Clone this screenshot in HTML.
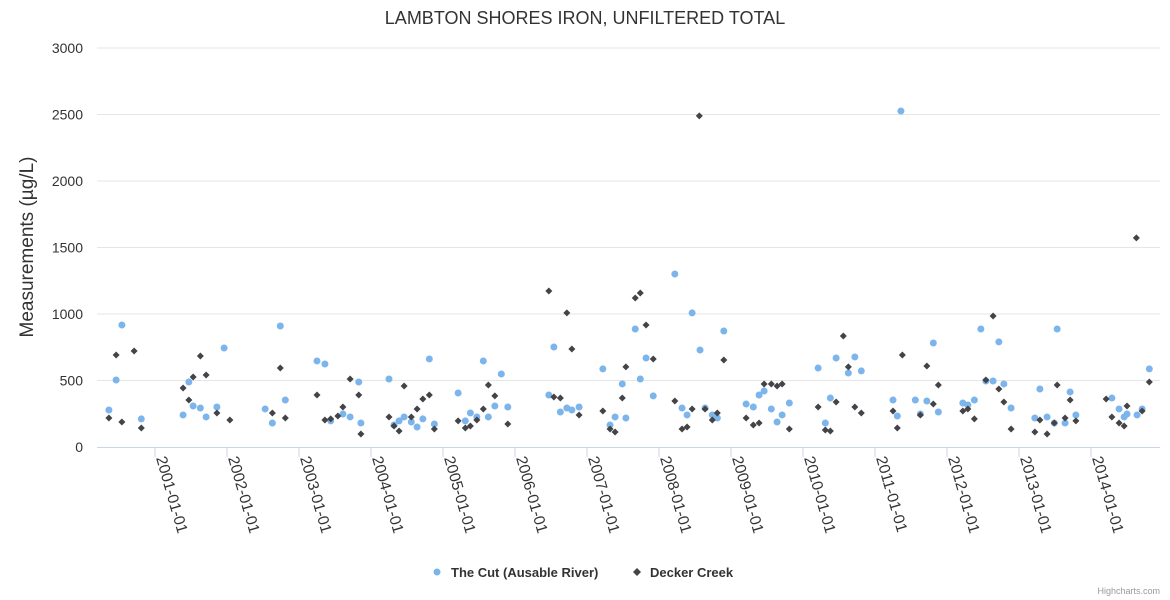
<!DOCTYPE html>
<html><head><meta charset="utf-8"><style>
body{margin:0;background:#fff;}
svg{display:block;font-family:"Liberation Sans","DejaVu Sans",sans-serif;}
</style></head><body>
<svg id="chart" width="1170" height="600" xmlns="http://www.w3.org/2000/svg">
<rect width="1170" height="600" fill="#fff"/>
<text x="585" y="24" text-anchor="middle" font-size="18" fill="#333">LAMBTON SHORES IRON, UNFILTERED TOTAL</text>
<text transform="translate(33,247) rotate(-90)" text-anchor="middle" font-size="19" fill="#333">Measurements (µg/L)</text>
<g id="grid"></g><g id="xaxis"></g><g id="marks"></g>
<g>
<g><circle cx="437" cy="572" r="3.5" fill="#7cb5ec"/><text x="451" y="577" font-size="13" font-weight="bold" fill="#333">The Cut (Ausable River)</text></g>
<g><path d="M637,568 L641,572 L637,576 L633,572 Z" fill="#434348"/><text x="650" y="577" font-size="13" font-weight="bold" fill="#333">Decker Creek</text></g>
</g>
<text x="1160" y="594" text-anchor="end" font-size="9" fill="#999">Highcharts.com</text>
</svg>
<script>
const yTicks=[0,500,1000,1500,2000,2500,3000];
const xTickYears=[2001,2002,2003,2004,2005,2006,2007,2008,2009,2010,2011,2012,2013,2014];
const cutDates=[2000.36,2000.46,2000.54,2000.81,2001.39,2001.47,2001.53,2001.63,2001.71,2001.86,2001.96,2002.53,2002.63,2002.74,2002.81,2003.25,2003.36,2003.44,2003.61,2003.71,2003.83,2003.86,2004.25,2004.32,2004.39,2004.46,2004.56,2004.64,2004.72,2004.81,2004.88,2005.21,2005.31,2005.38,2005.47,2005.56,2005.63,2005.72,2005.81,2005.90,2006.47,2006.54,2006.63,2006.72,2006.79,2006.89,2007.22,2007.32,2007.39,2007.49,2007.54,2007.67,2007.74,2007.82,2007.92,2008.22,2008.32,2008.39,2008.46,2008.57,2008.64,2008.74,2008.81,2008.90,2009.21,2009.31,2009.39,2009.46,2009.56,2009.64,2009.71,2009.81,2010.21,2010.31,2010.38,2010.46,2010.63,2010.72,2010.81,2011.25,2011.31,2011.36,2011.56,2011.63,2011.72,2011.81,2011.88,2012.22,2012.29,2012.38,2012.47,2012.54,2012.64,2012.72,2012.79,2012.89,2013.22,2013.29,2013.39,2013.49,2013.53,2013.64,2013.71,2013.79,2014.29,2014.39,2014.46,2014.50,2014.64,2014.71,2014.81];
const cutValues=[278,504,917,211,241,489,308,293,226,301,744,286,180,910,353,647,624,196,248,226,489,180,511,165,196,226,188,150,211,662,173,406,196,256,226,647,226,308,549,301,391,752,263,293,278,301,587,165,226,474,218,887,511,669,384,1301,293,241,1008,729,293,241,218,872,323,301,391,421,286,188,241,331,594,180,368,669,556,677,572,353,233,2526,353,248,346,782,263,331,316,353,887,496,496,790,474,293,218,436,226,180,887,180,414,241,368,286,226,248,241,286,587];
const deckerDates=[2000.36,2000.46,2000.54,2000.71,2000.81,2001.39,2001.47,2001.53,2001.63,2001.71,2001.86,2002.04,2002.63,2002.74,2002.81,2003.25,2003.36,2003.44,2003.54,2003.61,2003.71,2003.83,2003.86,2004.25,2004.32,2004.39,2004.46,2004.56,2004.64,2004.72,2004.81,2004.88,2005.21,2005.31,2005.38,2005.47,2005.56,2005.63,2005.72,2005.90,2006.47,2006.54,2006.63,2006.72,2006.79,2006.89,2007.22,2007.32,2007.39,2007.49,2007.54,2007.67,2007.74,2007.82,2007.92,2008.22,2008.32,2008.39,2008.46,2008.56,2008.64,2008.74,2008.81,2008.90,2009.21,2009.31,2009.39,2009.46,2009.56,2009.64,2009.71,2009.81,2010.21,2010.31,2010.38,2010.46,2010.56,2010.63,2010.72,2010.81,2011.25,2011.31,2011.38,2011.63,2011.72,2011.81,2011.88,2012.22,2012.29,2012.38,2012.54,2012.64,2012.72,2012.79,2012.89,2013.22,2013.29,2013.39,2013.49,2013.53,2013.64,2013.71,2013.79,2014.21,2014.29,2014.39,2014.46,2014.50,2014.63,2014.71,2014.81];
const deckerValues=[218,692,188,722,143,444,353,526,684,541,256,203,256,594,218,391,203,211,233,301,511,391,98,226,158,120,459,226,286,361,391,135,196,143,158,203,286,466,384,173,1173,376,368,1008,737,241,271,135,113,368,602,1120,1158,917,662,346,135,150,286,2490,286,203,256,654,218,165,180,474,474,459,474,135,301,128,120,338,835,602,301,256,271,143,692,241,609,323,466,271,286,211,504,985,436,338,135,113,203,98,180,466,218,353,196,361,226,180,158,308,1572,271,489];

const NS='http://www.w3.org/2000/svg';
const L=97,R=1160,T=48,B=447;
function xs(d){return 155+(d-2001)*72;}
function ys(v){return B-(v/3000)*(B-T);}
function mk(tag,attrs,parent){const e=document.createElementNS(NS,tag);for(const k in attrs)e.setAttribute(k,attrs[k]);parent.appendChild(e);return e;}
const grid=document.getElementById('grid'),xa=document.getElementById('xaxis'),marks=document.getElementById('marks');
yTicks.forEach(v=>{
  if(v>0){const g=mk('line',{x1:L,x2:R,y1:ys(v),y2:ys(v),stroke:'#e6e6e6','stroke-width':1},grid);
  
  }
  const t=mk('text',{x:83,y:ys(v)+5,'text-anchor':'end','font-size':14,fill:'#333'},grid);
  t.textContent=v;
  
  
});
const ax=mk('line',{x1:L,x2:R,y1:B+0.5,y2:B+0.5,stroke:'#ccd6eb','stroke-width':1},xa);


xTickYears.forEach(yr=>{
  const x=xs(yr);
  const tk=mk('line',{x1:x,x2:x,y1:B,y2:B+10,stroke:'#ccd6eb'},xa);
  
  
  const t=mk('text',{transform:'translate('+(x+1)+','+(B+11)+') rotate(74)','font-size':15.5,fill:'#333'},xa);
  t.textContent=yr+'-01-01';
  
  
});
cutDates.forEach((d,i)=>{
  const c=mk('circle',{cx:xs(d),cy:ys(cutValues[i]),r:3.5,fill:'#7cb5ec'},marks);
  
  
});
deckerDates.forEach((d,i)=>{
  const x=xs(d),y=ys(deckerValues[i]);
  const p=mk('path',{d:'M'+x+','+(y-3.5)+' L'+(x+3.5)+','+y+' L'+x+','+(y+3.5)+' L'+(x-3.5)+','+y+' Z',fill:'#434348'},marks);
  
  
});
</script>
</body></html>
